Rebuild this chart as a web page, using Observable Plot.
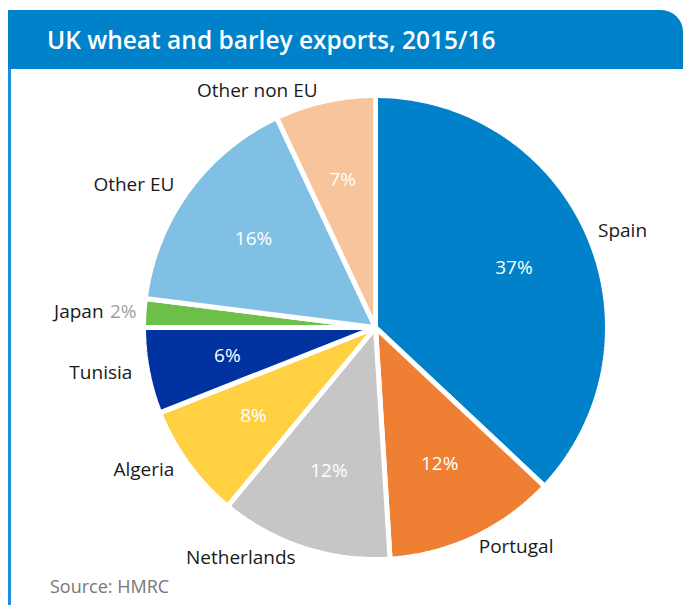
<!DOCTYPE html>
<html>
<head>
<meta charset="utf-8">
<script src="https://cdn.jsdelivr.net/npm/d3@7"></script>
<script src="https://cdn.jsdelivr.net/npm/@observablehq/plot@0.6"></script>
<style>
  html, body { margin: 0; padding: 0; background: #fff; }
  body { width: 683px; height: 605px; overflow: hidden; position: relative; font-family: "Open Sans", sans-serif; }
  #frame { position: absolute; left: 8px; top: 10px; width: 720px; height: 640px; box-sizing: border-box;
           border: 3px solid #1a8fdc; border-top: none; border-radius: 0 22px 0 26px; overflow: hidden; }
  #header { position: absolute; left: 8px; top: 10px; width: 675px; height: 59px; background: #0082ca;
            border-radius: 0 22px 0 0; }
  #title { position: absolute; left: 47px; top: 10px; height: 59px; line-height: 59px; color: #fff;
           font-size: 24.5px; font-weight: 600; white-space: nowrap; }
  #chart { position: absolute; left: 0; top: 70px; }
  #source { position: absolute; left: 50px; top: 574px; color: #777; font-size: 18px; white-space: nowrap; }
</style>
</head>
<body>
<div id="frame"></div>
<div id="header"></div>
<div id="title">UK wheat and barley exports, 2015/16</div>
<div id="chart"></div>
<div id="source">Source: HMRC</div>
<script>
const names = ["Spain", "Portugal", "Netherlands", "Algeria", "Tunisia", "Japan", "Other EU", "Other non EU"];
const shares = [37, 12, 12, 8, 6, 2, 16, 7];
const colors = ["#0081c9", "#ee7f33", "#c6c6c6", "#ffd142", "#0033a0", "#6cc04a", "#80c0e4", "#f7c49b"];

const W = 683, H = 505, cx = 375, cy = 257, R = 232;

const rows = names.map((name, i) => ({name, share: shares[i]}));
const arcs = d3.pie().sort(null).value(d => d.share).startAngle(0).endAngle(2 * Math.PI)(rows);

// slice outlines in unit coordinates (angle measured clockwise from 12 o'clock)
const slicePts = [];
for (const a of arcs) {
  slicePts.push({name: a.data.name, x: 0, y: 0});
  const n = Math.max(2, Math.ceil((a.endAngle - a.startAngle) / (Math.PI / 180)));
  for (let k = 0; k <= n; k++) {
    const t = a.startAngle + (a.endAngle - a.startAngle) * k / n;
    slicePts.push({name: a.data.name, x: Math.sin(t), y: Math.cos(t)});
  }
}

const labels = arcs.map(a => {
  const m = (a.startAngle + a.endAngle) / 2;
  return {
    name: a.data.name, share: a.data.share, mid: m,
    ix: 0.65 * Math.sin(m), iy: 0.65 * Math.cos(m),
    ox: 1.045 * Math.sin(m), oy: 1.045 * Math.cos(m),
    right: Math.sin(m) > 0, small: a.data.share < 3
  };
});

const chart = Plot.plot({
  width: W, height: H,
  marginTop: 0, marginRight: 0, marginBottom: 0, marginLeft: 0,
  x: {domain: [-cx / R, (W - cx) / R], range: [0, W], axis: null},
  y: {domain: [-(H - cy) / R, cy / R], range: [H, 0], axis: null},
  color: {domain: names, range: colors},
  style: {fontFamily: "'Open Sans', sans-serif", fontSize: "19px", background: "transparent"},
  marks: [
    Plot.line(slicePts, {x: "x", y: "y", z: "name", fill: "name", stroke: "white", strokeWidth: 5,
                         strokeLinejoin: "miter", curve: "linear-closed"}),
    Plot.text(labels.filter(d => !d.small), {x: "ix", y: "iy", text: d => d.share + "%", fill: "white", fontSize: 19}),
    Plot.text(labels.filter(d => d.right), {x: "ox", y: "oy", text: "name", textAnchor: "start", fill: "#1a1a1a", fontSize: 19}),
    Plot.text(labels.filter(d => !d.right && !d.small), {x: "ox", y: "oy", text: "name", textAnchor: "end", dx: -5, fill: "#1a1a1a", fontSize: 19}),
    Plot.text(labels.filter(d => d.small), {x: "ox", y: "oy", text: "name", textAnchor: "end", dx: -30, fill: "#1a1a1a", fontSize: 19}),
    Plot.text(labels.filter(d => d.small), {x: "ox", y: "oy", text: d => d.share + "%", textAnchor: "end", dx: 3, fill: "#a0a0a0", fontSize: 19})
  ]
});
document.getElementById("chart").appendChild(chart);
</script>
</body>
</html>
